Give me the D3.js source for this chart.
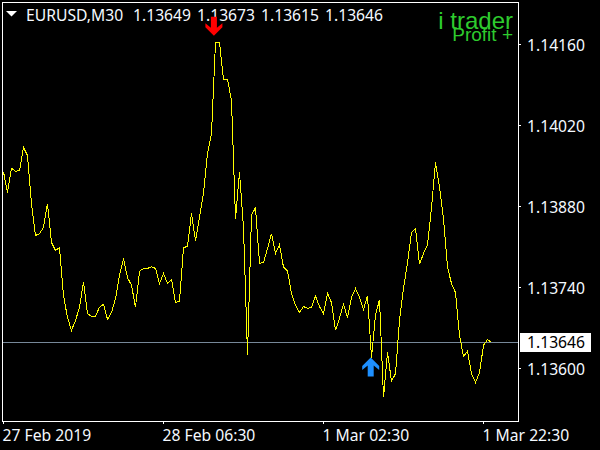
<!DOCTYPE html>
<html><head><meta charset="utf-8">
<style>html,body{margin:0;padding:0;background:#000}svg{display:block}text{font-family:"Noto Sans","Liberation Sans",sans-serif}</style>
<script src="https://cdn.jsdelivr.net/npm/d3@7"></script></head><body>
<script>
const priceTicks=[1.14160,1.14020,1.13880,1.13740,1.13600];
const timeTickBars=[0,40,80,120];
const timeLabels=["27 Feb 2019","28 Feb 06:30","1 Mar 02:30","1 Mar 22:30"];
const symbol="EURUSD,M30";
const ohlc=["1.13649","1.13673","1.13615","1.13646"];
const lastPrice=1.13646;
const sellBar=52.6, sellPrice=1.14175;
const buyBar=91.8, buyPrice=1.13619;
const closes=[
1.13940,1.13904,1.13946,1.13941,1.13942,1.13982,1.13968,1.13885,1.13830,1.13833,1.13844,1.13885,
1.13818,1.13804,1.13809,1.13726,1.13688,1.13666,1.13683,1.13706,1.13750,1.13695,1.13690,1.13690,
1.13706,1.13711,1.13685,1.13697,1.13721,1.13761,1.13790,1.13757,1.13744,1.13706,1.13768,1.13773,
1.13773,1.13776,1.13773,1.13747,1.13764,1.13747,1.13754,1.13714,1.13716,1.13809,1.13811,1.13868,
1.13821,1.13861,1.13903,1.13972,1.14006,1.14163,1.14163,1.14100,1.14100,1.14063,1.13859,1.13939,
1.13844,1.13624,1.13865,1.13878,1.13782,1.13783,1.13807,1.13833,1.13799,1.13814,1.13775,1.13769,
1.13730,1.13709,1.13697,1.13707,1.13704,1.13706,1.13725,1.13707,1.13695,1.13730,1.13714,1.13666,
1.13687,1.13711,1.13688,1.13723,1.13738,1.13723,1.13702,1.13726,1.13619,1.13692,1.13719,1.13550,
1.13628,1.13578,1.13591,1.13683,1.13738,1.13783,1.13835,1.13842,1.13780,1.13799,1.13813,1.13878,
1.13956,1.13913,1.13858,1.13775,1.13747,1.13731,1.13657,1.13621,1.13630,1.13591,1.13576,1.13593,
1.13640,1.13650,1.13645];

const W=600,H=450,fs=15.7;
const svg=d3.select("body").append("svg").attr("width",W).attr("height",H).style("background","#000");
const x=d3.scaleLinear().domain([0,120]).range([3,483]);
const y=d3.scaleLinear().domain([1.14160,1.13600]).range([44,368]);
const fg="#fff", textCol="#f4f9ff";

svg.append("rect").attr("x",2.5).attr("y",2.5).attr("width",516).attr("height",419)
 .attr("fill","none").attr("stroke",fg).attr("stroke-width",1).attr("shape-rendering","crispEdges");

svg.append("line").attr("x1",3).attr("x2",518).attr("y1",342.5).attr("y2",342.5)
 .attr("stroke","#778899").attr("stroke-width",1).attr("shape-rendering","crispEdges");

const line=d3.line().x((d,i)=>x(i)+.5).y(d=>y(d)+.5);
svg.append("path").datum(closes).attr("d",line).attr("fill","none").attr("stroke","#ffff00")
 .attr("stroke-width",1).attr("shape-rendering","crispEdges");

// price axis
const gy=svg.append("g").attr("transform","translate(518,0)")
 .call(d3.axisRight(y).tickValues(priceTicks).tickSize(3).tickFormat(d3.format(".5f")));
gy.select(".domain").remove();
gy.selectAll("line").attr("stroke",fg).attr("shape-rendering","crispEdges");
gy.selectAll("text").attr("x",9).attr("y",1).attr("fill",textCol).attr("font-size",fs).attr("dy","0.36em");
gy.attr("font-family",null);

// time axis
const gx=svg.append("g").attr("transform","translate(0,421)")
 .call(d3.axisBottom(x).tickValues(timeTickBars).tickSize(3).tickFormat((d,i)=>timeLabels[i]));
gx.select(".domain").remove();
gx.selectAll("line").attr("stroke",fg).attr("shape-rendering","crispEdges");
gx.selectAll("text").attr("fill",textCol).attr("font-size",fs).attr("text-anchor","start").attr("x",-1).attr("y",20).attr("dy",0);
gx.attr("font-family",null);

// last price tag
const tag=svg.append("g");
tag.append("rect").attr("x",520).attr("y",333).attr("width",71).attr("height",19).attr("fill","#fff");
tag.append("text").attr("x",527).attr("y",y(lastPrice)+1).attr("dy","0.36em").attr("fill","#000").attr("font-size",fs).text(d3.format(".5f")(lastPrice));

// header
svg.append("path").attr("d","M6,11h11l-5.5,5.5z").attr("fill","#fff");
svg.append("text").attr("x",26).attr("y",21).attr("fill",textCol).attr("font-size",fs).text(symbol);
svg.selectAll("text.ohlc").data(ohlc).join("text").attr("class","ohlc")
 .attr("x",(d,i)=>133+i*64).attr("y",21).attr("fill",textCol).attr("font-size",fs).text(d=>d);

// arrows
const arrow=(bar,p,dir,col)=>{const px=x(bar)+.5,py=y(p)+.5;
 svg.append("path").attr("transform",`translate(${px},${py}) scale(1,${dir})`)
 .attr("d","M0,0L8.5,-8.5L8.5,-12.5L3,-8L3,-19L-3,-19L-3,-8L-8.5,-12.5L-8.5,-8.5Z").attr("fill",col);};
arrow(sellBar,sellPrice,1,"#ff0000");
arrow(buyBar,buyPrice,-1,"#1e90ff");

// branding
svg.append("text").attr("x",513).attr("y",29).attr("text-anchor","end").attr("fill","#2ecb2e").attr("font-size",24).style("font-family","'Liberation Sans',sans-serif").text("i trader");
svg.append("text").attr("x",513).attr("y",41).attr("text-anchor","end").attr("fill","#2ecb2e").attr("font-size",19).style("font-family","'Liberation Sans',sans-serif").text("Profit +");
</script></body></html>
